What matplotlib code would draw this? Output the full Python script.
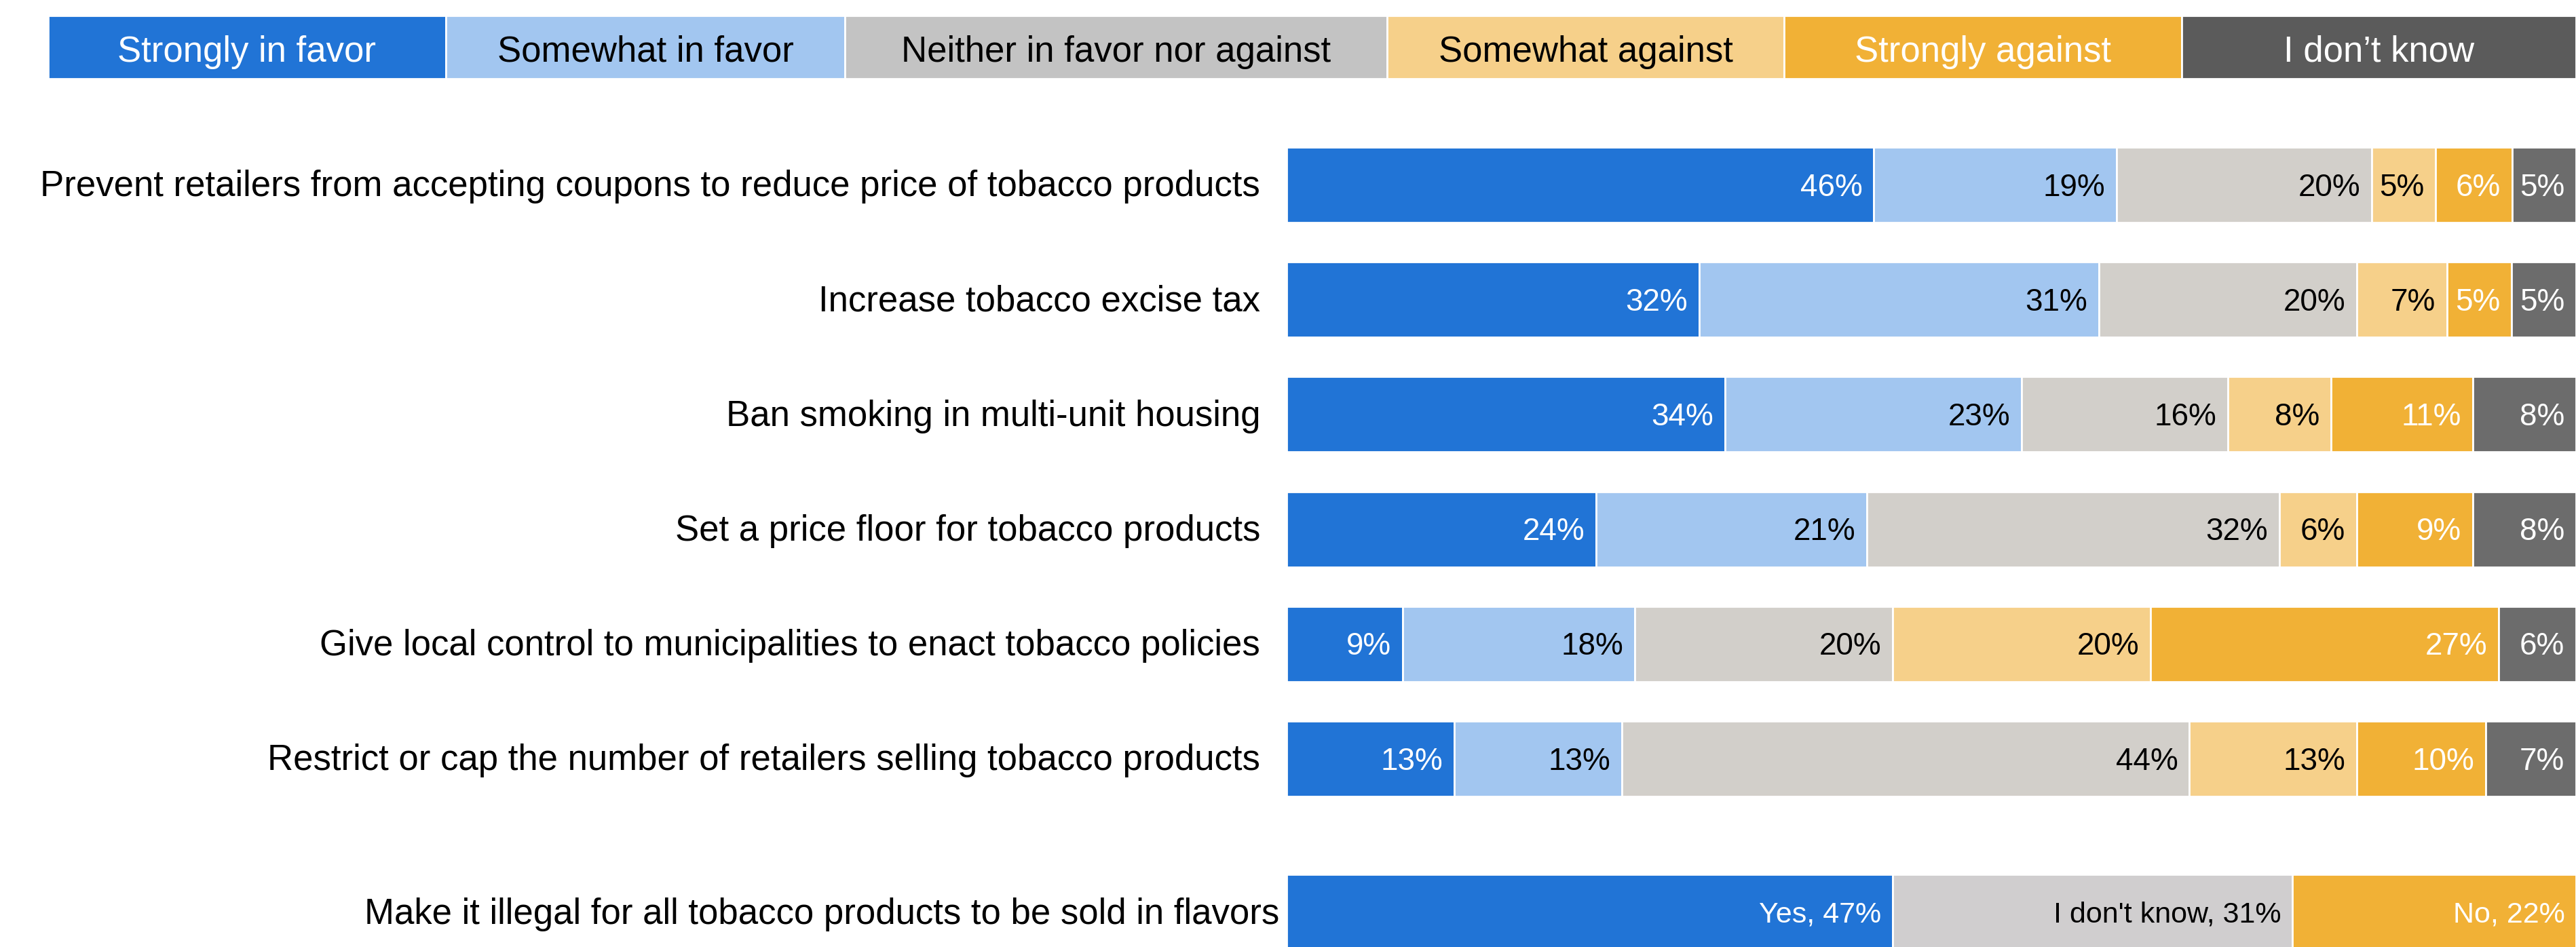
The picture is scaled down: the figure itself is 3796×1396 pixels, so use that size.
import matplotlib
matplotlib.use("Agg")
import matplotlib.pyplot as plt

plt.rcParams['font.family'] = ['Liberation Sans', 'DejaVu Sans']

# data
categories = [
    "Prevent retailers from accepting coupons to reduce price of tobacco products",
    "Increase tobacco excise tax",
    "Ban smoking in multi-unit housing",
    "Set a price floor for tobacco products",
    "Give local control to municipalities to enact tobacco policies",
    "Restrict or cap the number of retailers selling tobacco products",
]
responses = ["Strongly in favor", "Somewhat in favor", "Neither in favor nor against",
             "Somewhat against", "Strongly against", "I don\u2019t know"]
strongly_favor = [46, 32, 34, 24, 9, 13]
somewhat_favor = [19, 31, 23, 21, 18, 13]
neither = [20, 20, 16, 32, 20, 44]
somewhat_against = [5, 7, 8, 6, 20, 13]
strongly_against = [6, 5, 11, 9, 27, 10]
dont_know = [5, 5, 8, 8, 6, 7]

flavor_question = "Make it illegal for all tobacco products to be sold in flavors"
flavor_labels = ["Yes", "I don't know", "No"]
flavor_values = [47, 31, 22]

# styles
bar_colors = ["#2174d6", "#a2c6f0", "#d2cfca", "#f6d08a", "#f1b136", "#6c6c6c"]
legend_colors = ["#2174d6", "#a2c6f0", "#c3c3c3", "#f6d08a", "#f1b136", "#5b5b5b"]
text_colors = ["white", "black", "black", "black", "white", "white"]
legend_widths = [586, 588, 799, 585, 586, 581]
flavor_colors = ["#2174d6", "#d0cecf", "#f1b136"]
flavor_text = ["white", "black", "white"]

W, H = 3796, 1396
fig = plt.figure(figsize=(W / 100, H / 100), dpi=100)

# legend strip
lax = fig.add_axes([71 / W, 1 - 116 / H, 1 - 71 / W, 93 / H])
lax.set_xlim(0, sum(legend_widths))
lax.set_ylim(-0.5, 0.5)
lax.axis('off')
left = 0
for name, w, c, tc in zip(responses, legend_widths, legend_colors, text_colors):
    lax.barh(0, w, left=left, height=1, color=c, edgecolor='white', linewidth=2)
    lax.text(left + w / 2, -0.08, name, ha='center', va='center', fontsize=38, color=tc)
    left += w

# main bars
ax = fig.add_axes([1896 / W, 0, 1 - 1896 / W, (H - 130) / H])
ax.set_xlim(0, 100)
ax.set_ylim(6.64, -0.842)
ax.axis('off')

series = [strongly_favor, somewhat_favor, neither, somewhat_against, strongly_against, dont_know]
bar_h = 0.657
for i, cat in enumerate(categories):
    vals = [s[i] for s in series]
    total = sum(vals)
    left = 0
    for v, c, tc in zip(vals, bar_colors, text_colors):
        w = v / total * 100
        ax.barh(i, w, left=left, height=bar_h, color=c, edgecolor='white', linewidth=2)
        ax.annotate(f"{v}%", xy=(left + w, i), xytext=(-12, -3), textcoords='offset points',
                    ha='right', va='center', fontsize=33, color=tc)
        left += w
    ax.annotate(cat, xy=(0, i), xytext=(-28, -2), textcoords='offset points',
                ha='right', va='center', fontsize=38, color='black', annotation_clip=False)

y_last = 5 + 1.337
left = 0
for lab, v, c, tc in zip(flavor_labels, flavor_values, flavor_colors, flavor_text):
    ax.barh(y_last, v, left=left, height=bar_h, color=c, edgecolor='white', linewidth=2)
    ax.annotate(f"{lab}, {v}%", xy=(left + v, y_last), xytext=(-12, -3), textcoords='offset points',
                ha='right', va='center', fontsize=31, color=tc)
    left += v
ax.annotate(flavor_question, xy=(0, y_last), xytext=(-8, -2), textcoords='offset points',
            ha='right', va='center', fontsize=38, color='black', annotation_clip=False)

fig.savefig("out.png", dpi=100)
